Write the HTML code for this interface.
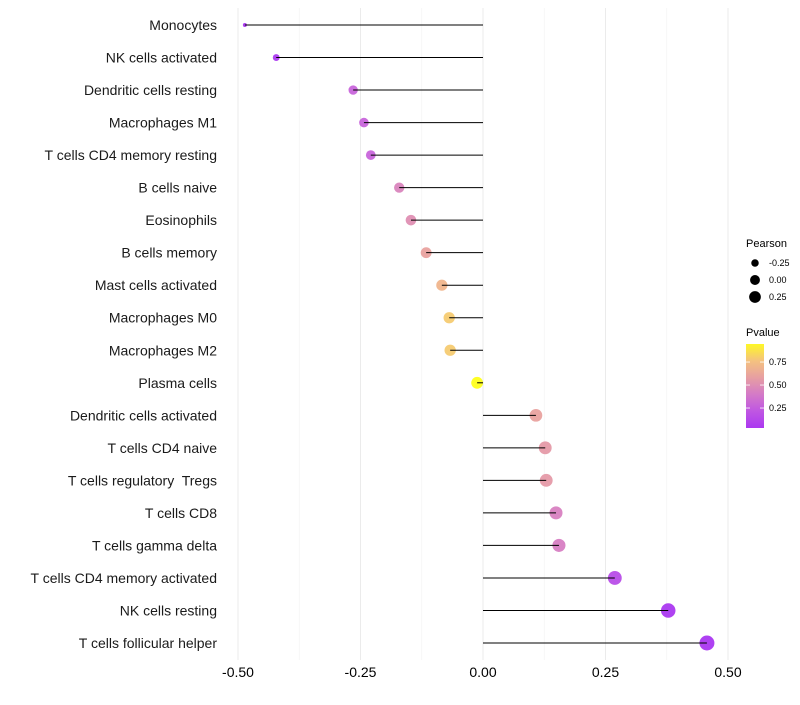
<!DOCTYPE html>
<html><head><meta charset="utf-8"><style>
body{margin:0;background:#fff;font-family:"Liberation Sans",sans-serif}
text{white-space:pre}
</style></head><body>
<svg id="c" width="800" height="700" xmlns="http://www.w3.org/2000/svg" font-family="Liberation Sans, sans-serif"></svg>
<script>
const categories=["Monocytes","NK cells activated","Dendritic cells resting","Macrophages M1","T cells CD4 memory resting","B cells naive","Eosinophils","B cells memory","Mast cells activated","Macrophages M0","Macrophages M2","Plasma cells","Dendritic cells activated","T cells CD4 naive","T cells regulatory  Tregs","T cells CD8","T cells gamma delta","T cells CD4 memory activated","NK cells resting","T cells follicular helper"];
const pearson=[-0.486,-0.422,-0.265,-0.243,-0.229,-0.171,-0.147,-0.116,-0.084,-0.069,-0.067,-0.012,0.108,0.127,0.129,0.149,0.155,0.269,0.378,0.457];
const pvalues=[0.02,0.04,0.3,0.3,0.3,0.45,0.5,0.6,0.7,0.8,0.8,0.97,0.6,0.55,0.55,0.43,0.42,0.15,0.03,0.02];
const xTicks=[-0.5,-0.25,0,0.25,0.5];
const xTickLabels=["-0.50","-0.25","0.00","0.25","0.50"];
const sizeLegend=[-0.25,0,0.25];
const sizeLegendLabels=["-0.25","0.00","0.25"];
const colorLegend=[0.25,0.5,0.75];
const colorLegendLabels=["0.25","0.50","0.75"];
const svg=document.getElementById('c');
const NS="http://www.w3.org/2000/svg";
const xS=v=>483+v*490;
const yS=i=>25+i*(618/19);
const rS=v=>2+5.5*Math.sqrt(Math.max(0,(v+0.486)/0.943));
const stops=[[0,[160,32,240]],[0.3,[195,85,215]],[0.55,[225,140,160]],[0.8,[244,190,110]],[1,[255,255,0]]];
function col(p){const t=Math.max(0,Math.min(1,(p-0.02)/(0.97-0.02)));
for(let k=1;k<stops.length;k++){if(t<=stops[k][0]){const a=stops[k-1],b=stops[k];const u=(t-a[0])/(b[0]-a[0]);
return `rgb(${a[1].map((x,j)=>Math.round(x+(b[1][j]-x)*u))})`;}}return 'rgb(255,255,0)';}
function el(tag,attrs,parent){const e=document.createElementNS(NS,tag);for(const k in attrs)e.setAttribute(k,attrs[k]);(parent||svg).appendChild(e);return e;}
[-0.375,-0.125,0.125,0.375].forEach(v=>{const g=el('line',{x1:xS(v),x2:xS(v),y1:8,y2:660,stroke:'#f3f3f3','stroke-width':0.6});

});
xTicks.forEach((v,i)=>{const g=el('line',{x1:xS(v),x2:xS(v),y1:8,y2:660,stroke:'#ebebeb','stroke-width':1});


const t=el('text',{x:xS(v),y:677,'text-anchor':'middle','font-size':14,fill:'#000'});t.textContent=xTickLabels[i];

});
categories.forEach((c,i)=>{const y=yS(i);
const t=el('text',{x:217,y:y+5,'text-anchor':'end','font-size':14,fill:'#1a1a1a'});t.textContent=c;


const p=el('circle',{cx:xS(pearson[i]),cy:y,r:rS(pearson[i]),fill:col(pvalues[i]),'fill-opacity':0.85});


const l=el('line',{x1:xS(0),x2:xS(pearson[i]),y1:y,y2:y,stroke:'#000','stroke-width':1});

});
const lt=el('text',{x:746,y:247,'font-size':11,fill:'#000'});lt.textContent='Pearson';


sizeLegend.forEach((v,i)=>{const y=263+i*17;
const c=el('circle',{cx:755,cy:y,r:rS(v)-1,fill:'#000'});


const t=el('text',{x:769,y:y+3,'font-size':9,fill:'#000'});t.textContent=sizeLegendLabels[i];

});
const ct=el('text',{x:746,y:336,'font-size':11,fill:'#000'});ct.textContent='Pvalue';


const defs=el('defs',{});const gr=el('linearGradient',{id:'pg',x1:0,y1:1,x2:0,y2:0},defs);
[0,0.2,0.4,0.6,0.8,1].forEach(o=>el('stop',{offset:o,'stop-color':col(0.033+o*0.913),'stop-opacity':0.9},gr));
const bar=el('rect',{x:746,y:344,width:18,height:84,fill:'url(#pg)'});


colorLegend.forEach((v,i)=>{const y=428-(v-0.033)/0.913*84;
el('line',{x1:746,x2:750,y1:y,y2:y,stroke:'#fff','stroke-width':0.8});el('line',{x1:760,x2:764,y1:y,y2:y,stroke:'#fff','stroke-width':0.8});
const t=el('text',{x:769,y:y+3,'font-size':9,fill:'#000'});t.textContent=colorLegendLabels[i];

});
</script>
</body></html>
